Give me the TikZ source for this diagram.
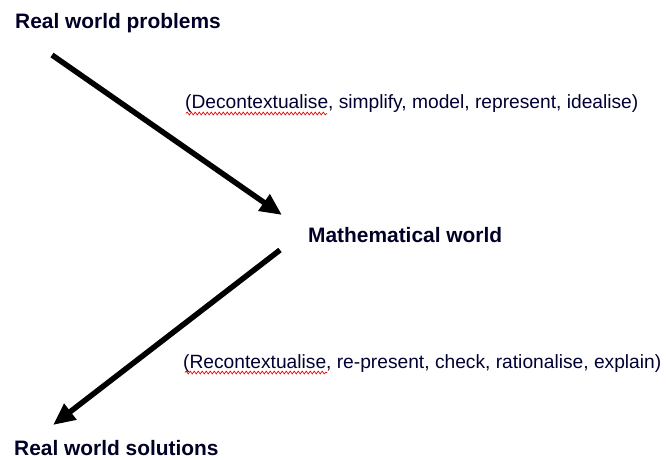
\documentclass[tikz,border=0pt]{standalone}
\usepackage{fontspec}
\setmainfont{Liberation Sans}
\usetikzlibrary{arrows.meta,decorations.pathmorphing}
\begin{document}
\begin{tikzpicture}[x=1pt,y=-1pt,
  head/.style={font=\fontsize{20.9}{24}\selectfont\bfseries, text=black!85!blue, inner sep=0pt, anchor=base west},
  lbl/.style={font=\fontsize{19.2}{22}\selectfont, text=black!80!blue, inner sep=0pt, anchor=base west},
  bigarrow/.style={line width=5.5pt, -{Triangle[length=22pt,width=19pt]}, shorten >=0pt},
  squig/.style={red, line width=0.7pt, decorate, decoration={snake, amplitude=1.4pt, segment length=4pt}}]
\useasboundingbox[fill=white] (0,0) rectangle (666,459);
\node[head] (p) at (15,28) {Real world problems};
\node[head] (m) at (308,242) {Mathematical world};
\node[head] (s) at (14,455) {Real world solutions};
\node[lbl] (l1) at (185,108) {(Decontextualise, simplify, model, represent, idealise)};
\node[lbl] (l2) at (183,368) {(Recontextualise, re-present, check, rationalise, explain)};
\coordinate (a1s) at (52,55);
\coordinate (a1e) at (282,215);
\coordinate (a2s) at (280,250);
\coordinate (a2e) at (53,425);
\draw[bigarrow] (a1s) -- (a1e);
\draw[bigarrow] (a2s) -- (a2e);
\coordinate (u1s) at (186,113.5);
\coordinate (u1e) at (327,113.5);
\coordinate (u2s) at (185,372.5);
\coordinate (u2e) at (327,372.5);
\draw[squig] (u1s) -- (u1e);
\draw[squig] (u2s) -- (u2e);
\end{tikzpicture}
\end{document}
